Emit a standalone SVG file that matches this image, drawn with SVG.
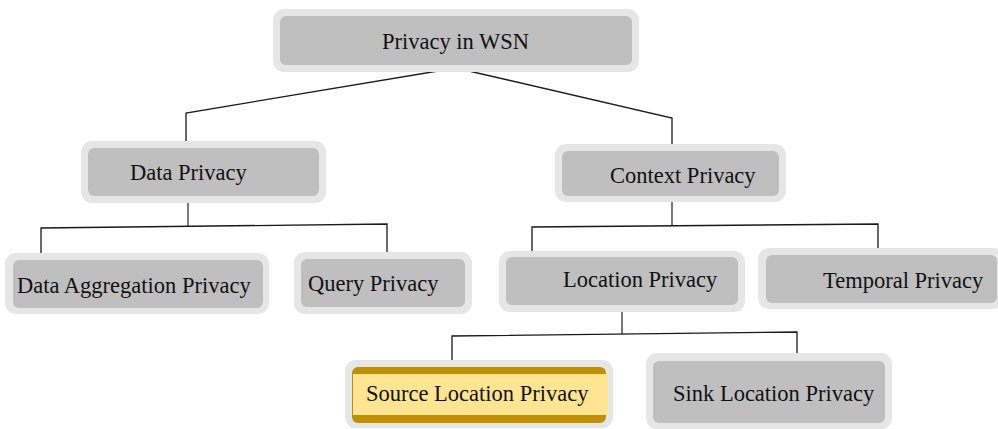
<svg xmlns="http://www.w3.org/2000/svg" width="998" height="429" viewBox="0 0 998 429">
<style>
.o{fill:#e6e6e6}
.i{fill:#bfbfbf}
.t{font-family:"Liberation Serif","Times New Roman",serif;font-size:22.5px;fill:#111}
.c{fill:none;stroke:#1a1a1a;stroke-width:1.3}
.s{fill:none;stroke:#6b6b6b;stroke-width:1.8}
</style>
<rect width="998" height="429" fill="#fff"/>
<g id="connectors">
<polyline class="c" points="186,144 186,113 456,68 672,118 672,149"/>
<line class="s" x1="188" y1="199" x2="188" y2="226"/>
<polyline class="c" points="41,256 41,228 387,224 387,253"/>
<line class="s" x1="672" y1="202" x2="672" y2="226"/>
<polyline class="c" points="532,253 532,227 878,224 878,250"/>
<line class="s" x1="622" y1="308" x2="622" y2="334"/>
<polyline class="c" points="452,362 452,336 797,332 797,359"/>
</g>
<g id="privacy-wsn">
<rect class="o" x="273" y="9" width="366" height="63" rx="11"/>
<rect class="i" x="280" y="16" width="352" height="49" rx="6"/>
<text class="t" x="382" y="49">Privacy in WSN</text>
</g>
<g id="data-privacy">
<rect class="o" x="81" y="141" width="245" height="62" rx="11"/>
<rect class="i" x="88" y="148" width="231" height="48" rx="6"/>
<text class="t" x="130" y="180">Data Privacy</text>
</g>
<g id="context-privacy">
<rect class="o" x="555" y="144" width="231" height="58" rx="11"/>
<rect class="i" x="562" y="151" width="217" height="45" rx="6"/>
<text class="t" x="610" y="183">Context Privacy</text>
</g>
<g id="data-aggregation-privacy">
<rect class="o" x="5" y="253" width="264" height="61" rx="11"/>
<rect class="i" x="13" y="260" width="250" height="48" rx="6"/>
<text class="t" x="17" y="293">Data Aggregation Privacy</text>
</g>
<g id="query-privacy">
<rect class="o" x="294" y="252" width="178" height="62" rx="11"/>
<rect class="i" x="301" y="259" width="164" height="48" rx="6"/>
<text class="t" x="308" y="291">Query Privacy</text>
</g>
<g id="location-privacy">
<rect class="o" x="499" y="251" width="246" height="61" rx="11"/>
<rect class="i" x="506" y="257" width="232" height="48" rx="6"/>
<text class="t" x="563" y="287">Location Privacy</text>
</g>
<g id="temporal-privacy">
<rect class="o" x="758" y="248" width="246" height="61" rx="11"/>
<rect class="i" x="766" y="255" width="231" height="48" rx="6"/>
<text class="t" x="823" y="288">Temporal Privacy</text>
</g>
<g id="source-location-privacy">
<rect class="o" x="345" y="360" width="268" height="68" rx="11"/>
<rect x="352" y="367" width="254" height="56" rx="6" fill="#c19000"/>
<rect x="353" y="374" width="255" height="41" fill="#ffe592"/>
<text class="t" x="366" y="401">Source Location Privacy</text>
</g>
<g id="sink-location-privacy">
<rect class="o" x="646" y="353" width="246" height="76" rx="11"/>
<rect class="i" x="653" y="361" width="232" height="62" rx="6"/>
<text class="t" x="673" y="401">Sink Location Privacy</text>
</g>
</svg>
